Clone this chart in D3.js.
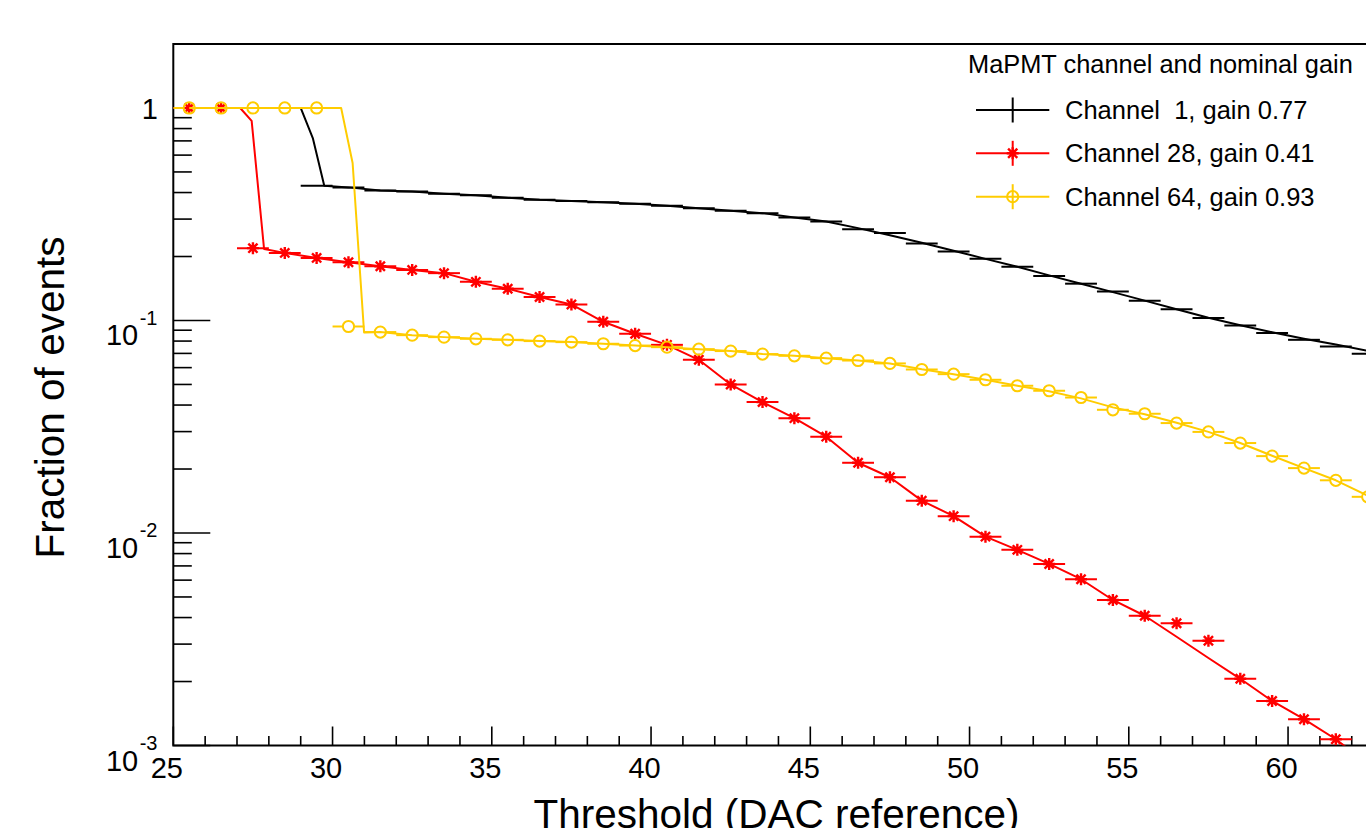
<!DOCTYPE html>
<html><head><meta charset="utf-8">
<script src="https://cdn.jsdelivr.net/npm/d3@7"></script>
<style>
body{margin:0;background:#fff;overflow:hidden}
svg{display:block;font-family:"Liberation Sans",Arial,Helvetica,sans-serif}
</style>
</head><body>
<svg id="chart" width="1366" height="828"></svg>
<script>
// ---- data ----
const thresholds = [25.5,26.5,27.5,28.5,29.5,30.5,31.5,32.5,33.5,34.5,35.5,36.5,37.5,38.5,39.5,40.5,41.5,42.5,43.5,44.5,45.5,46.5,47.5,48.5,49.5,50.5,51.5,52.5,53.5,54.5,55.5,56.5,57.5,58.5,59.5,60.5,61.5,62.5];
const ch1Fraction = [1,1,1,1,0.431,0.423,0.409,0.404,0.395,0.388,0.378,0.370,0.365,0.360,0.354,0.347,0.337,0.328,0.320,0.305,0.292,0.269,0.258,0.230,0.211,0.195,0.179,0.162,0.149,0.137,0.124,0.113,0.1026,0.0948,0.0873,0.0811,0.0755,0.0697];
const ch28Fraction = [1,1,0.219,0.208,0.197,0.188,0.180,0.173,0.167,0.152,0.141,0.129,0.119,0.0986,0.0866,0.0768,0.0653,0.0500,0.0413,0.0347,0.0284,0.0214,0.0183,0.0142,0.0120,0.00961,0.00833,0.00715,0.00606,0.00484,0.00408,0.00376,0.00311,0.00206,0.00162,0.00133,0.00107,0.00082];
const ch64Fraction = [1,1,1,1,1,0.0937,0.0882,0.0853,0.0835,0.0820,0.0811,0.0800,0.0791,0.0777,0.0762,0.0749,0.0733,0.0718,0.0695,0.0682,0.0665,0.0648,0.0628,0.0588,0.0559,0.0526,0.0493,0.0467,0.0434,0.0380,0.0364,0.0329,0.0299,0.0265,0.0230,0.0202,0.0177,0.0148];

// connecting curves (vertices)
const ch1CurveX = [25.5,26.5,27.5,28.5,29.0,29.38,29.74,30.5,31.5,32.5,33.5,34.5,35.5,36.5,37.5,38.5,39.5,40.5,41.5,42.5,43.5,44.5,45.5,46.5,47.5,48.5,49.5,50.5,51.5,52.5,53.5,54.5,55.5,56.5,57.5,58.5,59.5,60.5,61.5,62.5];
const ch1CurveY = [1,1,1,1,1,0.722,0.431,0.423,0.409,0.404,0.395,0.388,0.378,0.370,0.365,0.360,0.354,0.347,0.337,0.328,0.320,0.305,0.292,0.272,0.252,0.232,0.213,0.195,0.179,0.163,0.149,0.136,0.124,0.113,0.103,0.095,0.088,0.082,0.077,0.072];
const ch28CurveX = [25.5,26.5,27.1,27.46,27.85,28.5,29.5,30.5,31.5,32.5,33.5,34.5,35.5,36.5,37.5,38.5,39.5,40.5,41.5,42.5,43.5,44.5,45.5,46.5,47.5,48.5,49.5,50.5,51.5,52.5,53.5,54.5,55.5,56.5,57.5,58.5,59.5,60.5,61.5,62.5];
const ch28CurveY = [1,1,1,0.87,0.217,0.208,0.197,0.188,0.180,0.173,0.167,0.152,0.141,0.129,0.119,0.0986,0.0866,0.0768,0.0653,0.0500,0.0413,0.0347,0.0284,0.0214,0.0183,0.0142,0.0120,0.00961,0.00833,0.00715,0.00606,0.00484,0.00408,0.00325,0.00258,0.00206,0.00162,0.00133,0.00107,0.00082];
const ch64CurveX = [25.5,26.5,27.5,28.5,29.5,30.27,30.63,30.99,31.5,32.5,33.5,34.5,35.5,36.5,37.5,38.5,39.5,40.5,41.5,42.5,43.5,44.5,45.5,46.5,47.5,48.5,49.5,50.5,51.5,52.5,53.5,54.5,55.5,56.5,57.5,58.5,59.5,60.5,61.5,62.5];
const ch64CurveY = [1,1,1,1,1,1,0.551,0.0878,0.0882,0.0853,0.0835,0.0820,0.0811,0.0800,0.0791,0.0777,0.0762,0.0749,0.0733,0.0718,0.0695,0.0682,0.0665,0.0648,0.0628,0.0590,0.0559,0.0526,0.0493,0.0465,0.0430,0.0390,0.0362,0.0330,0.0299,0.0265,0.0231,0.0202,0.0177,0.0150];

const xTickValues = [25,30,35,40,45,50,55,60];
const xTickLabels = ["25","30","35","40","45","50","55","60"];
const yTickValues = [1,0.1,0.01,0.001];
const yTickExponents = [null,"-1","-2","-3"];
const legendTitle = "MaPMT channel and nominal gain";
const seriesLabels = ["Channel  1, gain 0.77","Channel 28, gain 0.41","Channel 64, gain 0.93"];
const xTitle = "Threshold (DAC reference)";
const yTitle = "Fraction of events";

// ---- styling ----
const colors = ["#000000","#ff0000","#ffcc00"];
const markers = ["none","star","circle"];

const svg = d3.select("#chart");
svg.append("rect").attr("width",1366).attr("height",828).attr("fill","#fff");

const x = d3.scaleLinear().domain([25,65]).range([173.3,1447.3]);
const y = d3.scaleLog().domain([0.001,2]).range([745.5,44]);
const x0 = x.range()[0], yB = y.range()[0], yT = y.range()[1];

svg.append("clipPath").attr("id","clip").append("rect")
  .attr("x",x0).attr("y",yT).attr("width",1366-x0).attr("height",yB-yT);

// ---- axes ticks ----
const axisG = svg.append("g").attr("stroke","#000").attr("stroke-width",1.6);
d3.range(25,63).forEach(v=>{
  const major = v%5===0;
  axisG.append("line").attr("x1",x(v)).attr("x2",x(v)).attr("y1",yB).attr("y2",yB-(major?19:9.5));
});
[-3,-2,-1,0].forEach(e=>{
  for(let m=1;m<=9;m++){
    const v = m*Math.pow(10,e);
    if(v>2.0001) continue;
    axisG.append("line").attr("x1",x0).attr("x2",x0+(m===1?37:18.5)).attr("y1",y(v)).attr("y2",y(v));
  }
});

// frame
svg.append("rect").attr("x",x0).attr("y",yT).attr("width",x.range()[1]-x0).attr("height",yB-yT)
  .attr("fill","none").attr("stroke","#000").attr("stroke-width",2);

// x tick labels
svg.append("g").selectAll("text").data(xTickValues).join("text")
  .attr("x",d=>x(d)-6.5).attr("y",777.5).attr("text-anchor","middle")
  .attr("font-size",29).attr("fill","#000").text((d,i)=>xTickLabels[i]);

// y tick labels
yTickValues.forEach((v,i)=>{
  const ty = y(v);
  if(yTickExponents[i]===null){
    svg.append("text").attr("x",158).attr("y",ty+11).attr("text-anchor","end")
      .attr("font-size",29).text("1");
  } else {
    const sup = svg.append("text").attr("x",157.5).attr("y",ty+4.5).attr("text-anchor","end")
      .attr("font-size",20).text(yTickExponents[i]);
    const w = sup.node().getComputedTextLength();
    svg.append("text").attr("x",157.5-w-1.5).attr("y",ty+25).attr("text-anchor","end")
      .attr("font-size",29).text("10");
  }
});

// axis titles
svg.append("text").attr("x",776.5).attr("y",827.5).attr("text-anchor","middle")
  .attr("font-size",40.5).text(xTitle);
svg.append("text").attr("transform","translate(64,397.5) rotate(-90)").attr("text-anchor","middle")
  .attr("font-size",40.5).text(yTitle);

// ---- series ----
const plot = svg.append("g").attr("clip-path","url(#clip)");
const lineGen = d3.line().x(d=>x(d[0])).y(d=>y(d[1]));

function drawMarker(g, kind, cx, cy, color){
  if(kind==="star"){
    const s=6, d=4.6;
    const p = `M${cx-s},${cy}L${cx+s},${cy}M${cx},${cy-s}L${cx},${cy+s}M${cx-d},${cy-d}L${cx+d},${cy+d}M${cx-d},${cy+d}L${cx+d},${cy-d}`;
    g.append("path").attr("d",p).attr("stroke",color).attr("stroke-width",2.4).attr("fill","none");
  } else if(kind==="circle"){
    g.append("circle").attr("cx",cx).attr("cy",cy).attr("r",5.6)
      .attr("fill","none").attr("stroke",color).attr("stroke-width",2);
  }
}

const curves = [
  [ch1CurveX,ch1CurveY,ch1Fraction],
  [ch28CurveX,ch28CurveY,ch28Fraction],
  [ch64CurveX,ch64CurveY,ch64Fraction]
];
curves.forEach(([cx,cy,vals],si)=>{
  const g = plot.append("g");
  const color = colors[si];
  g.append("path").datum(cx.map((v,i)=>[v,cy[i]])).attr("d",lineGen)
    .attr("fill","none").attr("stroke",color).attr("stroke-width",2).attr("stroke-linejoin","round");
  const gap = markers[si]==="circle"?5.6:0;
  thresholds.forEach((t,i)=>{
    const px = x(t), py = y(vals[i]);
    if(gap>0){
      g.append("line").attr("x1",x(t-0.5)).attr("x2",px-gap).attr("y1",py).attr("y2",py)
        .attr("stroke",color).attr("stroke-width",2);
      g.append("line").attr("x1",px+gap).attr("x2",x(t+0.5)).attr("y1",py).attr("y2",py)
        .attr("stroke",color).attr("stroke-width",2);
    } else {
      g.append("line").attr("x1",x(t-0.5)).attr("x2",x(t+0.5)).attr("y1",py).attr("y2",py)
        .attr("stroke",color).attr("stroke-width",2);
    }
    drawMarker(g, markers[si], px, py, color);
  });
});

// ---- legend ----
const leg = svg.append("g");
leg.append("text").attr("x",968).attr("y",73).attr("font-size",25.4).text(legendTitle);
const legBase = [119,162.3,205.7];
seriesLabels.forEach((lab,i)=>{
  const cyL = legBase[i]-9;
  leg.append("line").attr("x1",976).attr("x2",1049.3).attr("y1",cyL).attr("y2",cyL)
    .attr("stroke",colors[i]).attr("stroke-width",2);
  leg.append("line").attr("x1",1012.7).attr("x2",1012.7).attr("y1",cyL-12.5).attr("y2",cyL+12.5)
    .attr("stroke",colors[i]).attr("stroke-width",2);
  drawMarker(leg, markers[i], 1012.7, cyL, colors[i]);
  leg.append("text").attr("x",1065).attr("y",legBase[i]).attr("font-size",25.5)
    .attr("xml:space","preserve").style("white-space","pre").text(lab);
});
</script>
</body></html>
